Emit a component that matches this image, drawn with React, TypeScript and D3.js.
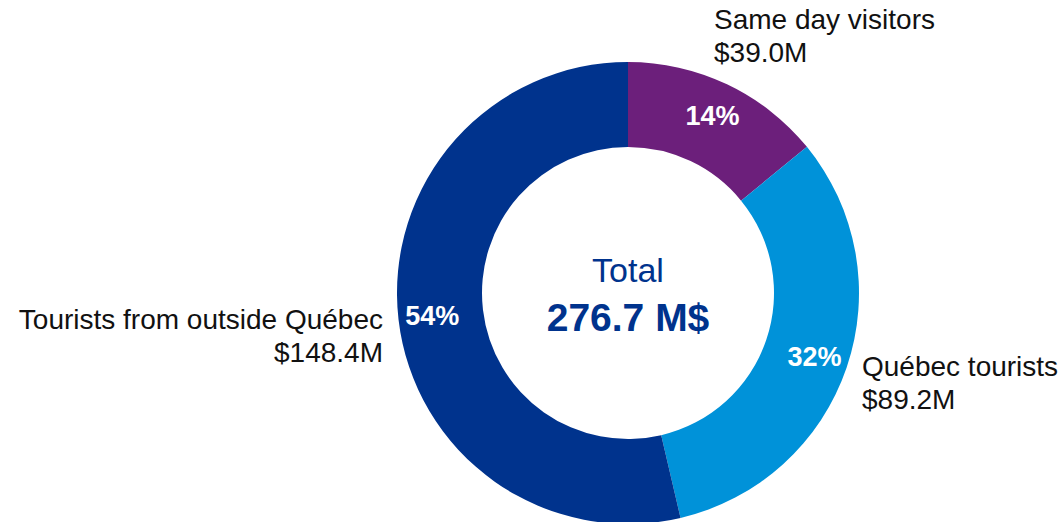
import { useRef, useEffect } from "react";
import * as d3 from "d3";

const categories = ["Same day visitors", "Québec tourists", "Tourists from outside Québec"];
const values = [39.0, 89.2, 148.4];
const amountLabels = ["$39.0M", "$89.2M", "$148.4M"];
const percentLabels = ["14%", "32%", "54%"];
const colors = ["#6c1f7b", "#0092d9", "#00338d"];
const totalLabel = "276.7 M$";

const App = () => {
  const svgRef = useRef<SVGSVGElement>(null);

  useEffect(() => {
    const w = 1061;
    const h = 522;
    const cx = 628;
    const cy = 293;
    const outerR = 231;
    const innerR = 146;
    const font = "Liberation Sans, Arial, sans-serif";

    const svg = d3.select(svgRef.current).attr("width", w).attr("height", h);
    svg.selectAll("*").remove();

    const g = svg.append("g").attr("transform", `translate(${cx},${cy})`);

    const pie = d3.pie<number>().sort(null).value((d) => d);
    const arcs = pie(values);
    const arc = d3.arc<d3.PieArcDatum<number>>().innerRadius(innerR).outerRadius(outerR);
    const labelArc = d3.arc<d3.PieArcDatum<number>>().innerRadius(197).outerRadius(197);

    g.selectAll(".slice")
      .data(arcs)
      .join("path")
      .attr("d", (d) => arc(d))
      .attr("fill", (d, i) => colors[i]);

    // percentages inside the ring
    g.selectAll(".pct")
      .data(arcs)
      .join("text")
      .attr("x", (d) => labelArc.centroid(d)[0])
      .attr("y", (d) => labelArc.centroid(d)[1])
      .attr("dy", "0.36em")
      .attr("text-anchor", "middle")
      .style("font-family", font)
      .style("font-weight", "bold")
      .style("font-size", "27px")
      .style("fill", "white")
      .text((d, i) => percentLabels[i]);

    // outer labels: [x, first baseline, anchor] relative to center
    const labelPos: [number, number, string][] = [
      [86, -264, "start"],
      [234, 83, "start"],
      [-245, 36, "end"],
    ];
    labelPos.forEach(([x, y, anchor], i) => {
      const t = g
        .append("text")
        .attr("text-anchor", anchor)
        .style("font-family", font)
        .style("font-size", "28px")
        .style("fill", "#111");
      t.append("tspan").attr("x", x).attr("y", y).text(categories[i]);
      t.append("tspan").attr("x", x).attr("y", y + 33).text(amountLabels[i]);
    });

    // center total
    g.append("text")
      .attr("x", 0)
      .attr("y", -11)
      .attr("text-anchor", "middle")
      .style("font-family", font)
      .style("font-size", "34px")
      .style("fill", "#00338d")
      .text("Total");
    g.append("text")
      .attr("x", 0)
      .attr("y", 38)
      .attr("text-anchor", "middle")
      .style("font-family", font)
      .style("font-weight", "bold")
      .style("font-size", "39px")
      .style("fill", "#00338d")
      .text(totalLabel);
  }, []);

  return (
    <div style={{ position: "absolute", left: 0, top: 0 }}>
      <svg ref={svgRef} style={{ display: "block" }}></svg>
    </div>
  );
};

export default App;
